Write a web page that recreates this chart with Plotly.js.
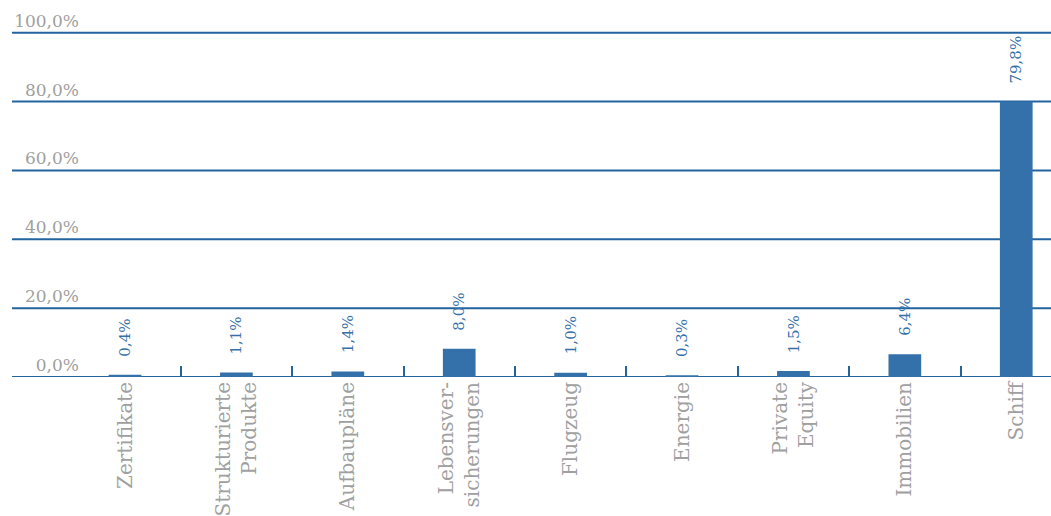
<!DOCTYPE html>
<html>
<head>
<meta charset="utf-8">
<script src="https://cdn.plot.ly/plotly-3.0.1.min.js"></script>
<style>html,body{margin:0;padding:0;background:#fff;}#chart{width:1051px;height:516px;}</style>
</head>
<body>
<div id="chart"></div>
<script>
const categories = ["Zertifikate", "Strukturierte<br>Produkte", "Aufbaupläne", "Lebensver-<br>sicherungen", "Flugzeug", "Energie", "Private<br>Equity", "Immobilien", "Schiff"];
const values = [0.4, 1.1, 1.4, 8.0, 1.0, 0.3, 1.5, 6.4, 79.8];
const yTicks = [0, 20, 40, 60, 80, 100];

const blue = "#3470aa";
const lineBlue = "#23649f";
const grey = "#a0a0a0";
const font = "DejaVu Serif";

const fmt = v => v.toFixed(1).replace(".", ",") + "%";
const yTickText = yTicks.map(fmt);

const annotations = categories.map((c, i) => ({
  x: c, y: values[i], xref: "x", yref: "y",
  text: fmt(values[i]), textangle: -90, showarrow: false,
  xanchor: "center", yanchor: "bottom", yshift: 17,
  font: {family: font, size: 15, color: blue}
}));

const L = 80, W = 1051;
const ext = -(L - 12) / (W - L);
const shapes = yTicks.map(t => ({
  type: "line", xref: "paper", yref: "y", x0: ext, x1: 1, y0: t, y1: t,
  line: {color: lineBlue, width: 2}, layer: "below"
}));

Plotly.newPlot("chart", [{
  type: "bar", x: categories, y: values, width: 0.28,
  marker: {color: blue, line: {color: blue, width: 1.5}}, hoverinfo: "skip"
}], {
  width: 1051, height: 516,
  margin: {l: L, r: 0, t: 31, b: 139},
  paper_bgcolor: "#fff", plot_bgcolor: "#fff",
  showlegend: false,
  xaxis: {
    type: "category", range: [-0.404, 8.312],
    tickson: "boundaries", ticks: "inside", ticklen: 11, tickwidth: 2, tickcolor: lineBlue,
    tickangle: -90, showgrid: false, zeroline: false, showline: false,
    tickfont: {family: font, size: 20, color: grey}
  },
  yaxis: {
    range: [0, 100.5], tickmode: "array", tickvals: yTicks, ticktext: yTickText,
    ticklabelposition: "outside top", showgrid: false, zeroline: false, showline: false, ticks: "",
    tickfont: {family: font, size: 17, color: grey}
  },
  shapes: shapes,
  annotations: annotations
}, {staticPlot: true});
</script>
</body>
</html>
